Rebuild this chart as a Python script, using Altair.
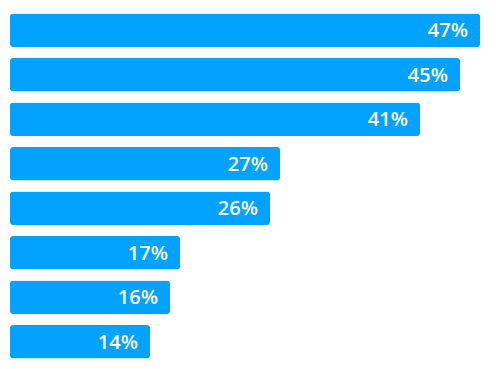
import altair as alt
import pandas as pd

categories = ["Item 1", "Item 2", "Item 3", "Item 4", "Item 5", "Item 6", "Item 7", "Item 8"]
values = [47, 45, 41, 27, 26, 17, 16, 14]
labels = ["47%", "45%", "41%", "27%", "26%", "17%", "16%", "14%"]

df = pd.DataFrame({"cat": categories, "val": values, "label": labels})

y = alt.Y("cat:N", sort=categories, axis=None,
          scale=alt.Scale(paddingInner=0.25, paddingOuter=0.125))
x = alt.X("val:Q", axis=None, scale=alt.Scale(domain=[0, 47], nice=False, zero=True))

bars = alt.Chart(df).mark_bar(color="#03A2FF", cornerRadius=3).encode(x=x, y=y)
text = alt.Chart(df).mark_text(
    align="right", baseline="middle", dx=-12, dy=1, color="white",
    font="Open Sans", fontSize=20, fontWeight=600
).encode(x=x, y=y, text="label:N")

chart = (bars + text).properties(
    width=470, height=356,
    autosize=alt.AutoSizeParams(type="none"),
    padding={"left": 2, "top": 0, "right": 0, "bottom": 0},
).configure_view(stroke=None)

chart.save("out.html", embed_options={"renderer": "svg", "actions": False})
